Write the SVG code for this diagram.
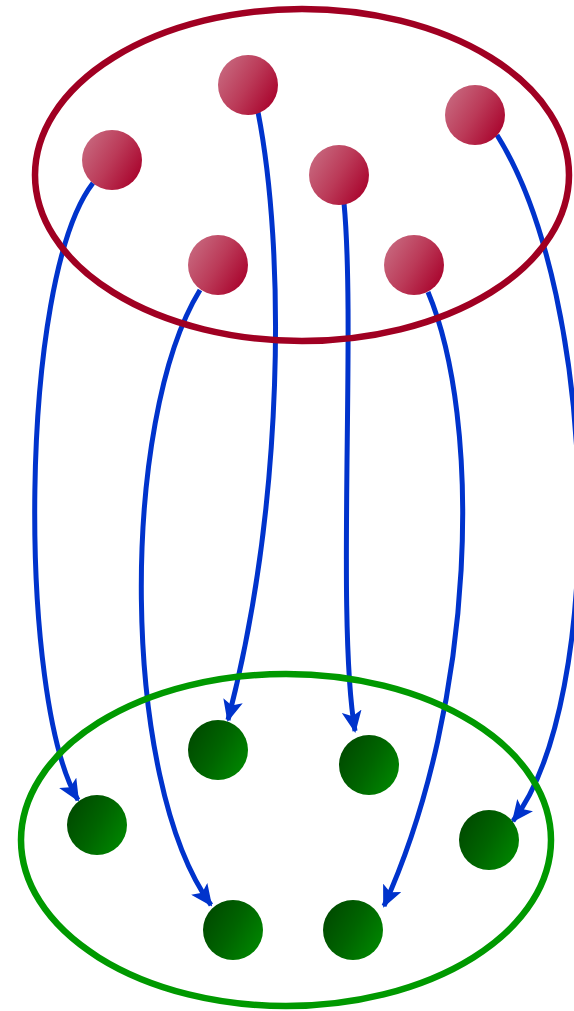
<svg xmlns="http://www.w3.org/2000/svg" width="574" height="1011" viewBox="0 0 574 1011">
<style>
.edge{fill:none;stroke:#0033cc;stroke-width:5;marker-end:url(#arr)}
.set{fill:none;stroke-width:6.5}
.red{fill:url(#gr)}
.green{fill:url(#gg)}
</style>
<defs>
<linearGradient id="gr" x1="0" y1="0.2" x2="1" y2="0.8">
<stop offset="0" stop-color="#c86a80"/>
<stop offset="0.5" stop-color="#bb3a58"/>
<stop offset="1" stop-color="#a8002a"/>
</linearGradient>
<linearGradient id="gg" x1="0" y1="0.2" x2="1" y2="0.8">
<stop offset="0" stop-color="#004800"/>
<stop offset="0.5" stop-color="#006400"/>
<stop offset="1" stop-color="#008800"/>
</linearGradient>
<marker id="arr" markerUnits="userSpaceOnUse" markerWidth="22" markerHeight="20" refX="20" refY="10" orient="auto" viewBox="0 0 22 20">
<path d="M0,0 L22,10 L0,20 L5,10 Z" fill="#0033cc"/>
</marker>
</defs>
<g id="connectors">
<path class="edge" d="M93,183 C18,280 18,700 78,800"/>
<path class="edge" d="M258,112 C285,250 285,500 228,720"/>
<path class="edge" d="M200,290 C120,420 120,780 211,905"/>
<path class="edge" d="M344,203 C356,330 336,620 355,731"/>
<path class="edge" d="M428,292 C482,420 477,700 384,906"/>
<path class="edge" d="M497,135 C600,300 606,700 513,821"/>
</g>
<g id="setA"><ellipse class="set" cx="302" cy="175" rx="267" ry="166" stroke="#a00022"/></g>
<g id="setB"><ellipse class="set" cx="286" cy="840" rx="265" ry="166" stroke="#009900"/></g>
<g id="a1"><circle class="red" cx="112" cy="160" r="30"/></g>
<g id="a2"><circle class="red" cx="248" cy="85" r="30"/></g>
<g id="a3"><circle class="red" cx="218" cy="265" r="30"/></g>
<g id="a4"><circle class="red" cx="339" cy="175" r="30"/></g>
<g id="a5"><circle class="red" cx="475" cy="115" r="30"/></g>
<g id="a6"><circle class="red" cx="414" cy="265" r="30"/></g>
<g id="b1"><circle class="green" cx="218" cy="750" r="30"/></g>
<g id="b2"><circle class="green" cx="369" cy="765" r="30"/></g>
<g id="b3"><circle class="green" cx="97" cy="825" r="30"/></g>
<g id="b4"><circle class="green" cx="489" cy="840" r="30"/></g>
<g id="b5"><circle class="green" cx="233" cy="930" r="30"/></g>
<g id="b6"><circle class="green" cx="353" cy="930" r="30"/></g>
</svg>
